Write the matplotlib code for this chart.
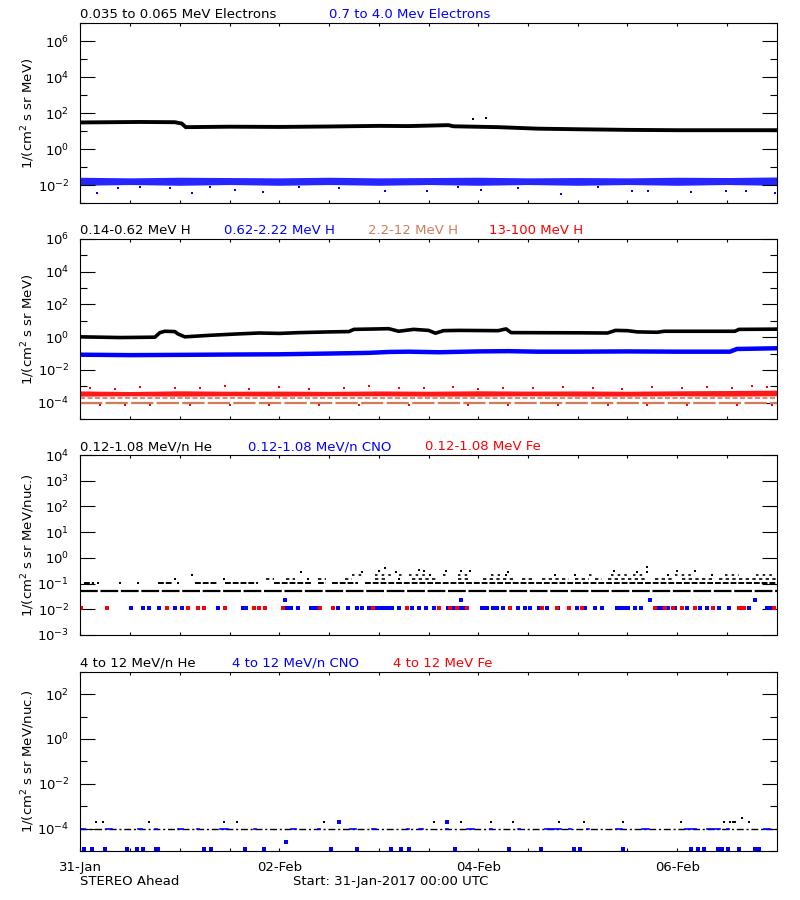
import matplotlib
matplotlib.use('Agg')
import matplotlib.pyplot as plt
from matplotlib.ticker import NullFormatter
import numpy as np

plt.rcParams.update({'font.size': 9.5, 'font.family': ['DejaVu Sans']})

BLUE = '#0000ff'
RED = '#ff0000'
SIENNA = '#d07c5c'

# time axis: days since 31-Jan-2017 00:00 UTC
half_days = [0, 0.5, 1, 1.5, 2, 2.5, 3, 3.5, 4, 4.5, 5, 5.5, 6, 6.5, 7]
date_ticks = [0, 2, 4, 6]
date_labels = ['31-Jan', '02-Feb', '04-Feb', '06-Feb']

# panel 1: electrons
elec_lo_t = [0, 0.3, 0.6, 0.95, 1.02, 1.06, 1.5, 2.0, 2.5, 3.0, 3.3, 3.7, 3.75, 4.2, 4.6, 5.0, 5.5, 6.0, 6.5, 7.0]
elec_lo_v = [31, 32, 33, 32, 27, 17, 18, 17.5, 18.5, 20, 19.5, 22, 19, 17, 14, 13, 12, 11.5, 11.5, 11.5]
elec_lo_out_t = [3.95, 4.08]
elec_lo_out_v = [48, 53]
elec_hi_min = [0.010, 0.011, 0.010, 0.011, 0.010, 0.011, 0.010, 0.011, 0.010, 0.011, 0.010, 0.011, 0.010, 0.011, 0.010]
elec_hi_max = [0.028, 0.026, 0.028, 0.027, 0.026, 0.028, 0.026, 0.027, 0.028, 0.026, 0.027, 0.026, 0.028, 0.027, 0.029]
elec_hi_out_t = [0.17, 0.38, 0.6, 0.9, 1.12, 1.3, 1.56, 1.84, 2.2, 2.6, 3.06, 3.48, 3.8, 4.03, 4.4,
                 4.83, 5.2, 5.55, 5.71, 6.14, 6.49, 6.69, 6.98]
elec_hi_out_v = [0.0036, 0.0068, 0.008, 0.0075, 0.0036, 0.008, 0.0053, 0.0045, 0.0078, 0.0072, 0.005, 0.005,
                 0.0078, 0.0055, 0.0075, 0.0035, 0.008, 0.005, 0.005, 0.0045, 0.005, 0.005, 0.0036]

# panel 2: protons
h_lo_t = [0, 0.4, 0.75, 0.8, 0.85, 0.95, 0.98, 1.05, 1.3, 1.6, 1.8, 2.0, 2.2, 2.5, 2.7, 2.75, 3.0, 3.1, 3.2, 3.35,
          3.5, 3.57, 3.65, 3.8, 4.2, 4.28, 4.33, 5.0, 5.3, 5.38, 5.5, 5.6, 5.8, 5.87, 6.58, 6.62, 7.0]
h_lo_v = [1.05, 0.95, 1.0, 1.9, 2.3, 2.2, 1.6, 1.05, 1.3, 1.6, 1.8, 1.7, 1.9, 2.1, 2.2, 3.0, 3.2, 3.3, 2.3, 3.0,
          2.6, 1.75, 2.5, 2.6, 2.5, 3.2, 1.9, 1.85, 1.8, 2.6, 2.5, 2.1, 2.0, 2.3, 2.3, 3.0, 3.1]
h_mid_t = [0, 0.5, 1.0, 1.5, 2.0, 2.5, 2.9, 3.1, 3.3, 3.6, 4.0, 4.3, 4.6, 5.0, 5.5, 6.0, 6.53, 6.6, 7.0]
h_mid_v = [0.085, 0.08, 0.083, 0.087, 0.09, 0.1, 0.11, 0.125, 0.13, 0.12, 0.135, 0.14, 0.13, 0.13, 0.135,
           0.13, 0.13, 0.19, 0.21]
h_2to12_levels = [1.9e-4, 9.2e-5]
h_hi_min = [2.5e-4, 2.6e-4, 2.5e-4, 2.6e-4, 2.5e-4, 2.6e-4, 2.6e-4, 2.5e-4, 2.5e-4, 2.6e-4, 2.5e-4, 2.5e-4,
            2.6e-4, 2.5e-4, 2.6e-4]
h_hi_max = [5.2e-4, 4.8e-4, 5.3e-4, 5.0e-4, 5.1e-4, 4.9e-4, 5.2e-4, 5.0e-4, 5.3e-4, 5.1e-4, 5.2e-4, 5.0e-4,
            5.3e-4, 5.5e-4, 5.8e-4]
h_hi_up_t = [0.1, 0.35, 0.6, 0.95, 1.2, 1.45, 1.7, 2.0, 2.3, 2.65, 2.9, 3.2, 3.45, 3.75, 4.0, 4.25, 4.55,
             4.85, 5.15, 5.45, 5.75, 6.05, 6.3, 6.55, 6.75, 6.9]
h_hi_up_v = [8e-4, 7e-4, 9e-4, 7.5e-4, 8e-4, 1.0e-3, 7e-4, 8.5e-4, 7e-4, 8e-4, 1.0e-3, 7.5e-4, 8e-4, 9e-4,
             7e-4, 8e-4, 7.5e-4, 9e-4, 8e-4, 7e-4, 8.5e-4, 7.5e-4, 9e-4, 8e-4, 1.1e-3, 9e-4]
h_hi_dn_t = [0.2, 0.45, 0.7, 1.1, 1.5, 1.9, 2.4, 2.8, 3.3, 3.9, 4.3, 4.8, 5.3, 5.7, 6.1, 6.6, 6.95]
h_hi_dn_v = [7e-5, 7e-5, 6.8e-5, 7e-5, 6.8e-5, 7e-5, 7e-5, 6.8e-5, 7e-5, 7e-5, 6.8e-5, 7e-5, 7e-5, 6.8e-5,
             7e-5, 7e-5, 6.8e-5]

# panel 3: 0.12-1.08 MeV/n heavy ions
he_levels = [0.052, 0.103, 0.155, 0.21]
he_spans = [
    [(0.0, 7.0)],
    [(0.04, 0.14), (0.18, 0.2), (0.4, 0.41), (0.58, 0.59), (0.78, 0.92), (0.98, 0.99), (1.15, 1.38),
     (1.45, 1.79), (1.95, 2.32), (2.39, 2.47), (2.53, 2.79), (2.86, 7.0)],
    [(0.95, 0.96), (1.44, 1.45), (1.87, 1.95), (2.07, 2.16), (2.29, 2.3), (2.39, 2.47), (2.66, 2.73),
     (2.96, 3.06), (3.2, 3.23), (3.33, 3.6), (3.8, 3.9), (4.05, 4.37), (4.44, 4.57), (4.64, 4.91),
     (4.97, 5.11), (5.17, 5.24), (5.3, 5.71), (5.78, 5.98), (6.05, 6.35), (6.42, 7.0)],
    [(1.12, 1.13), (2.73, 2.83), (2.96, 3.13), (3.2, 3.25), (3.3, 3.47), (3.52, 3.55), (3.65, 3.7),
     (3.8, 3.9), (4.13, 4.22), (4.28, 4.29), (4.77, 4.78), (4.97, 4.98), (5.11, 5.17), (5.33, 5.51),
     (5.56, 5.68), (5.91, 5.92), (5.98, 6.18), (6.35, 6.36), (6.48, 6.62), (6.79, 6.99)],
]
he_pts_t = [2.22, 2.83, 3.0, 3.06, 3.17, 3.4, 3.45, 3.68, 3.83, 3.92, 4.3, 5.36, 5.6, 5.7, 5.7, 6.0, 6.18]
he_pts_v = [0.27, 0.27, 0.3, 0.40, 0.29, 0.33, 0.3, 0.3, 0.3, 0.3, 0.29, 0.3, 0.29, 0.29, 0.45, 0.3, 0.3]
ion_floor = 0.0108
cno_t = [0.51, 0.63, 0.69, 0.79, 0.95, 1.02, 1.38, 1.45, 1.64, 1.67, 2.08, 2.12, 2.19, 2.32, 2.35, 2.37,
         2.59, 2.69, 2.78, 2.83, 2.9, 2.92, 2.96, 3.0, 3.03, 3.06, 3.1, 3.13, 3.2, 3.33, 3.4, 3.47, 3.56,
         3.7, 3.73, 3.76, 3.79, 3.82, 3.85, 4.04, 4.07, 4.09, 4.15, 4.17, 4.19, 4.25, 4.4, 4.47, 4.52,
         4.61, 4.69, 4.8, 4.99, 5.07, 5.17, 5.24, 5.39, 5.42, 5.45, 5.48, 5.51, 5.58, 5.64, 5.81, 5.84,
         5.91, 5.98, 6.1, 6.23, 6.3, 6.42, 6.52, 6.72, 6.9, 6.93]
cno_hi_t = [2.06, 3.83, 5.73, 6.78]
cno_hi_v = [0.0236, 0.0236, 0.0236, 0.0236]
fe_t = [0.01, 0.27, 0.87, 1.08, 1.18, 1.24, 1.45, 1.75, 1.8, 1.86, 2.04, 2.41, 2.54, 2.94, 3.28, 3.61,
        3.72, 3.79, 3.89, 4.32, 4.64, 4.79, 4.91, 5.04, 5.78, 5.88, 5.96, 6.05, 6.18, 6.36, 6.62, 6.65,
        6.67, 6.97]

# panel 4: 4-12 MeV/n heavy ions
he4_floor = 1e-4
he4_pts_t = [0.16, 0.23, 0.69, 1.44, 1.58, 2.45, 3.56, 3.83, 4.13, 4.35, 4.81, 5.06, 5.46, 6.04, 6.47,
             6.53, 6.56, 6.58, 6.65, 6.72]
he4_pts_v = [2e-4, 2e-4, 2e-4, 2e-4, 2e-4, 2e-4, 2e-4, 2e-4, 2e-4, 2e-4, 2e-4, 2e-4, 2e-4, 2e-4, 2e-4,
             2e-4, 2e-4, 2e-4, 3e-4, 2e-4]
cno4_spans = [(0.01, 0.04), (0.26, 0.31), (0.58, 0.61), (0.75, 0.76), (0.98, 1.02), (1.17, 1.18),
              (1.4, 1.47), (1.75, 1.76), (2.12, 2.16), (2.39, 2.4), (2.71, 2.76), (2.93, 2.96),
              (3.28, 3.29), (3.4, 3.43), (3.68, 3.69), (3.89, 3.95), (4.12, 4.13), (4.4, 4.41),
              (4.67, 4.82), (4.91, 4.92), (5.09, 5.1), (5.38, 5.44), (5.65, 5.71), (6.08, 6.18),
              (6.3, 6.42), (6.5, 6.51), (6.87, 6.92)]
cno4_pts_t = [0.04, 0.12, 0.245, 0.47, 0.57, 0.63, 0.76, 0.78, 1.24, 1.31, 1.66, 1.85, 2.07, 2.52, 2.6,
              2.78, 3.12, 3.22, 3.3, 3.69, 3.77, 4.31, 4.63, 4.96, 5.02, 5.46, 6.14, 6.21, 6.27, 6.41,
              6.45, 6.51, 6.62, 6.78, 6.82]
cno4_pts_v = [1.24e-5, 1.24e-5, 1.24e-5, 1.24e-5, 1.24e-5, 1.24e-5, 1.24e-5, 1.24e-5, 1.24e-5, 1.24e-5,
              1.24e-5, 1.24e-5, 2.5e-5, 1.24e-5, 2e-4, 1.24e-5, 1.24e-5, 1.24e-5, 1.24e-5, 2e-4,
              1.24e-5, 1.24e-5, 1.24e-5, 1.24e-5, 1.24e-5, 1.24e-5, 1.24e-5, 1.24e-5, 1.24e-5, 1.24e-5,
              1.24e-5, 1.24e-5, 1.24e-5, 1.24e-5, 1.24e-5]

titles = [
    [('0.035 to 0.065 MeV Electrons', 'black', 80), ('0.7 to 4.0 Mev Electrons', BLUE, 329)],
    [('0.14-0.62 MeV H', 'black', 80), ('0.62-2.22 MeV H', BLUE, 224), ('2.2-12 MeV H', SIENNA, 368),
     ('13-100 MeV H', RED, 489)],
    [('0.12-1.08 MeV/n He', 'black', 80), ('0.12-1.08 MeV/n CNO', BLUE, 248), ('0.12-1.08 MeV Fe', RED, 425)],
    [('4 to 12 MeV/n He', 'black', 80), ('4 to 12 MeV/n CNO', BLUE, 232), ('4 to 12 MeV Fe', RED, 393)],
]

W, H = 800, 900
LEFT, RIGHT = 80.3, 776.7
panels_px = [(23.3, 203.3), (239, 419), (455, 635), (671.7, 851)]
ylims = [(1e-3, 1e7), (1e-5, 1e6), (1e-3, 1e4), (1e-5, 1e3)]
ylabels = [r'1/(cm$^2$ s sr MeV)', r'1/(cm$^2$ s sr MeV)',
           r'1/(cm$^2$ s sr MeV/nuc.)', r'1/(cm$^2$ s sr MeV/nuc.)']

fig = plt.figure(figsize=(8, 9), dpi=100)
axes = []
for i, (top, bottom) in enumerate(panels_px):
    ax = fig.add_axes([LEFT / W, 1 - bottom / H, (RIGHT - LEFT) / W, (bottom - top) / H])
    ax.set_yscale('log')
    lo, hi = ylims[i]
    e0, e1 = int(np.log10(lo)), int(np.log10(hi))
    exps = list(range(e0, e1 + 1))
    if i == 2:
        major = exps
        minor = []
    else:
        major = [e for e in exps if e % 2 == 0]
        minor = [e for e in exps if e % 2 != 0]
    ax.set_yticks([10.0 ** e for e in major], [r'$10^{%d}$' % e for e in major])
    ax.set_yticks([10.0 ** e for e in minor], minor=True)
    ax.yaxis.set_minor_formatter(NullFormatter())
    ax.set_ylim(lo, hi)
    ax.set_xlim(0, 7)
    ax.set_xticks(half_days[:-1],
                  [date_labels[date_ticks.index(d)] if (d in date_ticks and i == 3) else '' for d in half_days[:-1]])
    ax.tick_params(axis='y', which='major', direction='in', length=10.8, width=0.8, pad=8,
                   left=True, right=True, labelsize=9.5)
    ax.tick_params(axis='y', which='minor', direction='in', length=5, width=0.8, left=True, right=True)
    ax.tick_params(axis='x', which='both', direction='in', length=2.5, width=0.8, top=True, pad=7)
    for s in ax.spines.values():
        s.set_linewidth(0.8)
    ax.set_ylabel(ylabels[i], fontsize=9.5)
    ax.yaxis.set_label_coords(-(LEFT - 37) / (RIGHT - LEFT), 0.5)
    for text, color, xpx in titles[i]:
        fig.text(xpx / W, 1 - (top - 5) / H, text, color=color, va='baseline', ha='left')
    axes.append(ax)

ax1, ax2, ax3, ax4 = axes

# panel 1
ax1.fill_between(half_days, elec_hi_min, elec_hi_max, color=BLUE, lw=0, alpha=0.85)
ax1.plot(elec_hi_out_t, elec_hi_out_v, 's', color=BLUE, ms=2, mew=0)
ax1.plot(elec_lo_t, elec_lo_v, '-', color='black', lw=2.8)
ax1.plot(elec_lo_out_t, elec_lo_out_v, 's', color='black', ms=2, mew=0)

# panel 2
ax2.plot(h_lo_t, h_lo_v, '-', color='black', lw=2.6)
ax2.plot(h_mid_t, h_mid_v, '-', color=BLUE, lw=3.2)
ax2.plot([0, 7], [h_2to12_levels[0]] * 2, color=SIENNA, lw=1.2, dashes=(3, 1.5))
ax2.plot([0, 7], [h_2to12_levels[1]] * 2, color=SIENNA, lw=1.6, dashes=(10, 1.5))
ax2.fill_between(half_days, h_hi_min, h_hi_max, color=RED, lw=0, alpha=0.9)
ax2.plot(h_hi_up_t, h_hi_up_v, 's', color=RED, ms=2, mew=0)
ax2.plot(h_hi_dn_t, h_hi_dn_v, 's', color=RED, ms=2, mew=0)

# panel 3
level_styles = [(1.6, (8, 1.2)), (1.4, (3, 1)), (1.2, (2, 2)), (1.2, (1.5, 2.5))]
for level, spans, (lw, dash) in zip(he_levels, he_spans, level_styles):
    for a, b in spans:
        if b - a < 0.03:
            ax3.plot([a], [level], 's', color='black', ms=2, mew=0)
        else:
            ax3.plot([a, b], [level, level], color='black', lw=lw, dashes=dash)
ax3.plot(he_pts_t, he_pts_v, 's', color='black', ms=2, mew=0)
ax3.plot(cno_t, [ion_floor] * len(cno_t), 's', color=BLUE, ms=2.2, mew=0)
ax3.plot(cno_hi_t, cno_hi_v, 's', color=BLUE, ms=2.2, mew=0)
ax3.plot(fe_t, [ion_floor] * len(fe_t), 's', color=RED, ms=2.2, mew=0)

# panel 4
ax4.plot([0, 7], [he4_floor, he4_floor], color='black', lw=1.0, dashes=(5, 2, 1.5, 2))
for a, b in cno4_spans:
    ax4.plot([a, b + 0.01], [he4_floor, he4_floor], color=BLUE, lw=1.2)
ax4.plot(he4_pts_t, he4_pts_v, 's', color='black', ms=2, mew=0)
ax4.plot(cno4_pts_t, cno4_pts_v, 's', color=BLUE, ms=2.2, mew=0)

fig.text(80 / W, 1 - 885 / H, 'STEREO Ahead', va='baseline', ha='left')
fig.text(293 / W, 1 - 885 / H, 'Start: 31-Jan-2017 00:00 UTC', va='baseline', ha='left')

fig.savefig('out.png', dpi=100)
